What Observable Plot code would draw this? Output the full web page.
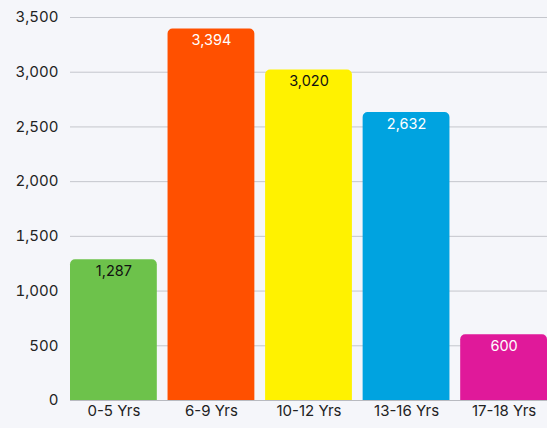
<!DOCTYPE html>
<html><head><meta charset="utf-8">
<script src="https://cdn.jsdelivr.net/npm/d3@7"></script>
<script src="https://cdn.jsdelivr.net/npm/@observablehq/plot@0.6"></script>
<style>
html,body{margin:0;padding:0;background:#f5f6fa;}
#chart{width:547px;height:428px;}
</style></head><body><div id="chart"></div>
<script>
const categories = ["0-5 Yrs","6-9 Yrs","10-12 Yrs","13-16 Yrs","17-18 Yrs"];
const values = [1287, 3394, 3020, 2632, 600];
const colors = ["#6dc24b","#ff5000","#fff200","#00a3e0","#e0199a"];
const labelColors = ["#111111","#ffffff","#111111","#ffffff","#ffffff"];
const yTicks = [0,500,1000,1500,2000,2500,3000,3500];

const data = categories.map((c,i)=>({cat:c, value:values[i], color:colors[i], lc:labelColors[i]}));
const fmt = d3.format(",");

const chart = Plot.plot({
  width: 547, height: 428,
  marginLeft: 70, marginRight: 0, marginTop: 17, marginBottom: 28,
  style: {background: "#f5f6fa", fontFamily: "Inter, sans-serif", fontSize: "15px", color: "#222"},
  x: {domain: categories, paddingInner: 0.11, paddingOuter: 0, round: false, label: null, tickSize: 0, tickPadding: 5},
  y: {domain: [0, 3500], ticks: yTicks, tickFormat: fmt, label: null, tickSize: 0, tickPadding: 12},
  marks: [
    Plot.gridY(yTicks, {stroke: "#c4c6cc", strokeOpacity: 1, strokeWidth: 1}),
    Plot.barY(data, {x: "cat", y: "value", fill: d => d.color, ry1: 5, inset: 0}),
    Plot.ruleY([0], {stroke: "#b8bac0"}),
    Plot.text(data, {x: "cat", y: "value", text: d => fmt(d.value), fill: d => d.lc, lineAnchor: "top", dy: 6, fontSize: 14.5})
  ]
});
document.getElementById("chart").appendChild(chart);
</script></body></html>
